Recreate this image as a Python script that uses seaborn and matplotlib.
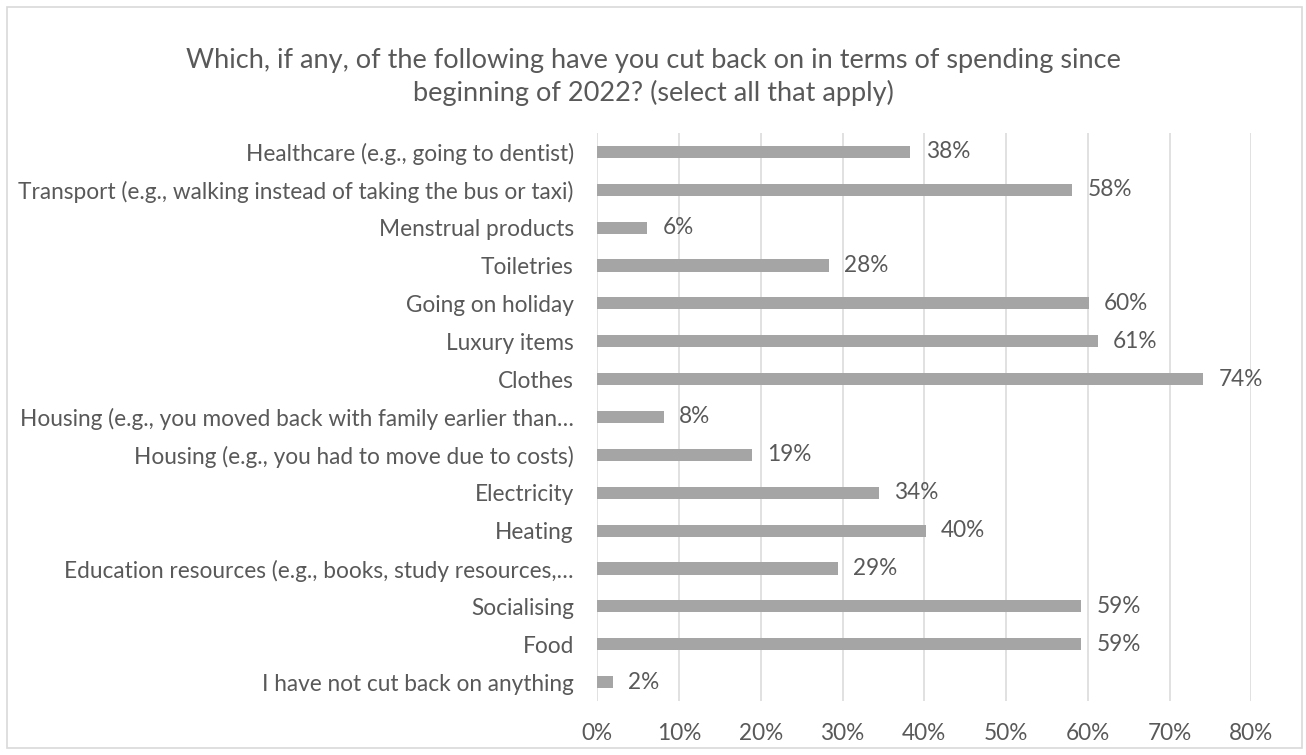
import matplotlib
matplotlib.use("Agg")
import matplotlib.pyplot as plt
from matplotlib.patches import Rectangle
from matplotlib.ticker import MultipleLocator, PercentFormatter
import pandas as pd
import seaborn as sns

# Survey answers, listed top to bottom as they appear on the chart
categories = [
    "Healthcare (e.g., going to dentist)",
    "Transport (e.g., walking instead of taking the bus or taxi)",
    "Menstrual products",
    "Toiletries",
    "Going on holiday",
    "Luxury items",
    "Clothes",
    "Housing (e.g., you moved back with family earlier than\u2026",
    "Housing (e.g., you had to move due to costs)",
    "Electricity",
    "Heating",
    "Education resources (e.g., books, study resources,\u2026",
    "Socialising",
    "Food",
    "I have not cut back on anything",
]
# Share of respondents who cut back (fraction of 1)
shares = [0.383, 0.581, 0.061, 0.283, 0.601, 0.612, 0.741, 0.081,
          0.189, 0.344, 0.402, 0.294, 0.592, 0.592, 0.019]

title = ("Which, if any, of the following have you cut back on in terms of spending since\n"
         "beginning of 2022? (select all that apply)")

TEXT = "#595959"
BAR = "#A5A5A5"
GRID = "#D9D9D9"
LABEL_SIZE = 16.3
TITLE_SIZE = 19.5

sns.set_theme(style="white")
plt.rcParams["font.family"] = ["Lato", "DejaVu Sans"]

W, H = 1306, 755
fig = plt.figure(figsize=(W / 100, H / 100), dpi=100)
fig.patch.set_facecolor("white")

# plot area in pixel terms: x 597..1251, y 133..701
ax = fig.add_axes([597.4 / W, 1 - 701 / H, (1251.3 - 597.4) / W, (701 - 133) / H])

df = pd.DataFrame({"category": categories, "share": shares})
sns.barplot(data=df, x="share", y="category", orient="h", color=BAR,
            saturation=1, width=0.32, linewidth=0, ax=ax)

ax.set_xlim(0, 0.8)
ax.xaxis.set_major_locator(MultipleLocator(0.1))
ax.xaxis.set_major_formatter(PercentFormatter(1.0, decimals=0))
ax.grid(axis="x", color=GRID, linewidth=1.1)
ax.grid(axis="y", visible=False)
ax.set_axisbelow(True)
for s in ax.spines.values():
    s.set_visible(False)

ax.set_xlabel("")
ax.set_ylabel("")
ax.tick_params(axis="x", length=0, pad=16, labelsize=LABEL_SIZE, labelcolor=TEXT)
ax.tick_params(axis="y", length=0, pad=17, labelsize=LABEL_SIZE, labelcolor=TEXT)

for container in ax.containers:
    ax.bar_label(container, fmt=lambda v: f"{v:.0%}", padding=11,
                 fontsize=LABEL_SIZE, color=TEXT)

fig.text(0.5, 1 - 77 / H, title, ha="center", va="center",
         fontsize=TITLE_SIZE, color=TEXT, linespacing=1.3)

# light outline around the whole chart
fig.add_artist(Rectangle((6.5 / W, 1 - 748 / H), (1302 - 6.5) / W, (748 - 7) / H,
                         transform=fig.transFigure, fill=False,
                         edgecolor=GRID, linewidth=1.2))

fig.savefig("out.png", dpi=100)
